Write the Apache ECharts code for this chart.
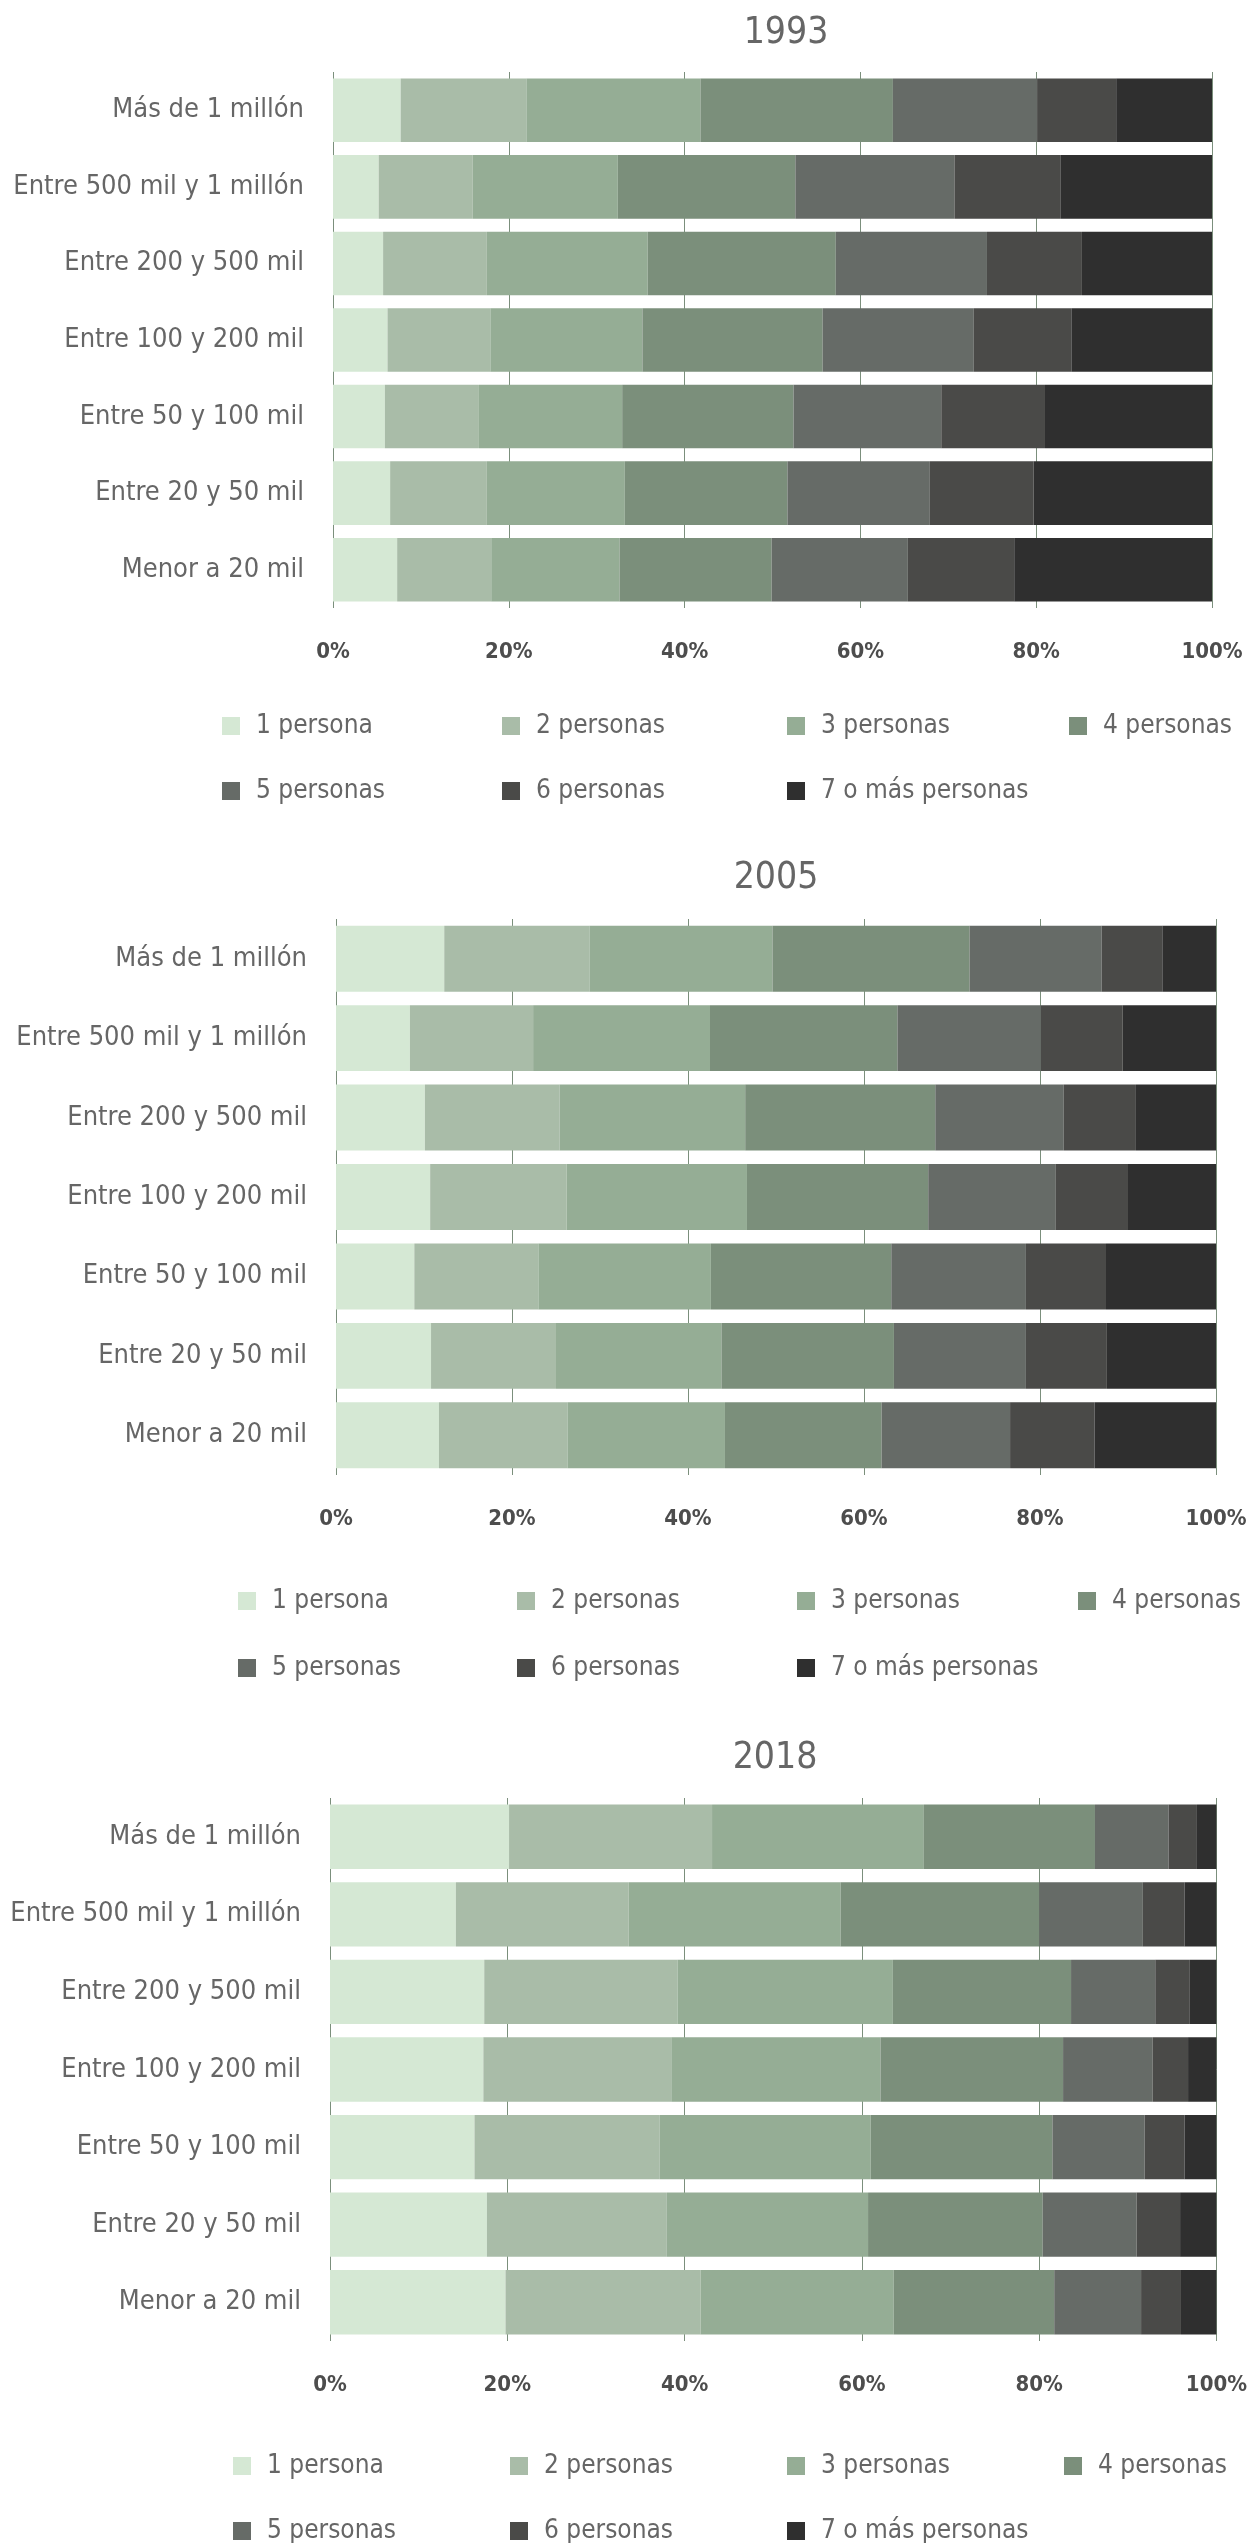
<!DOCTYPE html>
<html>
<head>
<meta charset="utf-8">
<script src="https://cdn.jsdelivr.net/npm/echarts@6/dist/echarts.min.js"></script>
<style>
    html, body { margin: 0; padding: 0; background: #fff; }
    #chart { width: 1250px; height: 2543px; }
</style>
</head>
<body>
<div id="chart"></div>
<script>
    // categories (city size), top to bottom
    const categories = [
        'Más de 1 millón',
        'Entre 500 mil y 1 millón',
        'Entre 200 y 500 mil',
        'Entre 100 y 200 mil',
        'Entre 50 y 100 mil',
        'Entre 20 y 50 mil',
        'Menor a 20 mil'
    ];
    const householdSizes = ['1 persona', '2 personas', '3 personas', '4 personas', '5 personas', '6 personas', '7 o más personas'];
    const years = ['1993', '2005', '2018'];
    const percentTicks = [0, 20, 40, 60, 80, 100];

    // one row per household size, one value per category (%)
    const values1993 = [
        [7.7, 5.2, 5.7, 6.2, 5.9, 6.5, 7.3],
        [14.3, 10.7, 11.8, 11.7, 10.7, 11.0, 10.7],
        [19.8, 16.5, 18.3, 17.3, 16.3, 15.7, 14.6],
        [21.9, 20.2, 21.4, 20.5, 19.5, 18.5, 17.3],
        [16.4, 18.1, 17.2, 17.2, 16.8, 16.2, 15.5],
        [9.0, 12.1, 10.8, 11.1, 11.8, 11.8, 12.1],
        [10.9, 17.2, 14.8, 16.0, 19.0, 20.3, 22.5]
    ];
    const values2005 = [
        [12.3, 8.4, 10.1, 10.7, 8.9, 10.8, 11.7],
        [16.5, 14.0, 15.3, 15.5, 14.1, 14.2, 14.6],
        [20.8, 20.1, 21.1, 20.5, 19.6, 18.8, 17.9],
        [22.4, 21.3, 21.6, 20.6, 20.5, 19.6, 17.8],
        [15.0, 16.3, 14.6, 14.5, 15.3, 15.0, 14.6],
        [6.9, 9.3, 8.2, 8.2, 9.1, 9.2, 9.6],
        [6.1, 10.6, 9.1, 10.0, 12.5, 12.4, 13.8]
    ];
    const values2018 = [
        [20.2, 14.2, 17.4, 17.3, 16.3, 17.7, 19.8],
        [22.9, 19.5, 21.8, 21.2, 20.9, 20.3, 22.0],
        [23.9, 23.9, 24.3, 23.6, 23.8, 22.7, 21.8],
        [19.3, 22.4, 20.1, 20.6, 20.5, 19.7, 18.1],
        [8.3, 11.7, 9.5, 10.1, 10.4, 10.6, 9.8],
        [3.2, 4.7, 3.9, 4.0, 4.5, 4.9, 4.5],
        [2.2, 3.6, 3.0, 3.2, 3.6, 4.1, 4.0]
    ];
    const valuesByYear = [values1993, values2005, values2018];

    const colors = ['#d5e8d4', '#a9bca8', '#95ad95', '#7b8f7b', '#666b67', '#4a4a48', '#2f2f2f'];
    const FONT = "'DejaVu Sans Condensed', 'Liberation Sans Narrow', sans-serif";

    // page layout, one block per year
    const panels = [
        { grid: { left: 333, top: 72, width: 879, height: 536 }, titleX: 786, titleY: 33, legendX: [222, 502, 787, 1069], legendY: [726, 791] },
        { grid: { left: 336, top: 919, width: 880, height: 556 }, titleX: 776, titleY: 878, legendX: [238, 517, 797, 1078], legendY: [1601, 1668] },
        { grid: { left: 330, top: 1798, width: 890, height: 543 }, titleX: 775, titleY: 1758, legendX: [233, 510, 787, 1064], legendY: [2466, 2531] }
    ];

    let chart = echarts.init(document.getElementById('chart'));

    let title = [], grid = [], xAxis = [], yAxis = [], legend = [], series = [];
    panels.forEach(function (p, k) {
        title.push({
            text: years[k],
            left: p.titleX,
            top: p.titleY,
            textAlign: 'center',
            textVerticalAlign: 'middle',
            padding: 0,
            textStyle: { fontFamily: FONT, fontSize: 37, fontWeight: 'normal', color: '#666' }
        });
        grid.push(Object.assign({ containLabel: false }, p.grid));
        xAxis.push({
            type: 'value',
            gridIndex: k,
            min: percentTicks[0],
            max: percentTicks[percentTicks.length - 1],
            interval: 20,
            axisLine: { show: false },
            axisTick: { show: false },
            splitLine: { show: true, lineStyle: { color: '#7b8f7c', width: 1 } },
            axisLabel: {
                formatter: '{value}%',
                margin: 33,
                fontFamily: FONT,
                fontSize: 22,
                fontWeight: 'bold',
                color: '#4d4d4d'
            }
        });
        yAxis.push({
            type: 'category',
            gridIndex: k,
            data: categories,
            inverse: true,
            axisLine: { show: false },
            axisTick: { show: false },
            axisLabel: { margin: 29, fontFamily: FONT, fontSize: 27, color: '#666' }
        });
        householdSizes.forEach(function (name, i) {
            legend.push({
                data: [name],
                left: p.legendX[i % 4],
                top: p.legendY[Math.floor(i / 4)] - 15,
                padding: 0,
                icon: 'rect',
                itemWidth: 18,
                itemHeight: 18,
                textStyle: { fontFamily: FONT, fontSize: 26, lineHeight: 30, color: '#666', padding: [0, 0, 0, 11] }
            });
            series.push({
                name: name,
                type: 'bar',
                xAxisIndex: k,
                yAxisIndex: k,
                stack: 'total' + k,
                barCategoryGap: '17%',
                itemStyle: { color: colors[i] },
                data: valuesByYear[k][i]
            });
        });
    });

    chart.setOption({
        animation: false,
        title: title,
        grid: grid,
        xAxis: xAxis,
        yAxis: yAxis,
        legend: legend,
        series: series
    });
</script>
</body>
</html>
